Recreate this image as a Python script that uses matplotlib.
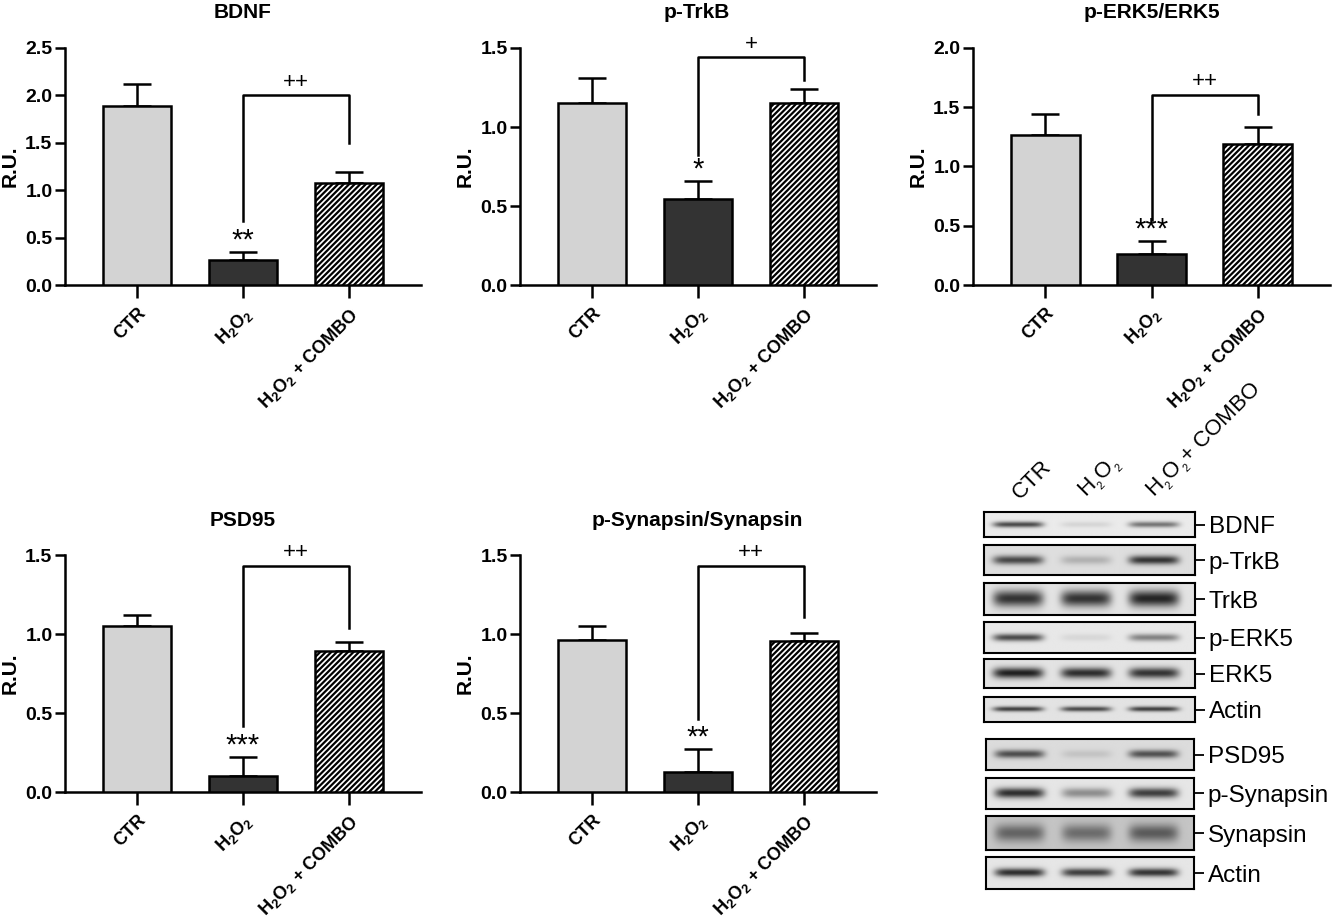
import numpy as np
import matplotlib
matplotlib.use("Agg")
import matplotlib.pyplot as plt

plt.rcParams["font.family"] = ["Liberation Sans", "DejaVu Sans"]
plt.rcParams["mathtext.fontset"] = "custom"
plt.rcParams["mathtext.default"] = "regular"
plt.rcParams["hatch.linewidth"] = 1.6

# ---- Quantification (R.U., mean and upper error) ----
groups = ["CTR", "H$_2$O$_2$", "H$_2$O$_2$ + COMBO"]

titles = ["BDNF", "p-TrkB", "p-ERK5/ERK5", "PSD95", "p-Synapsin/Synapsin"]
means = [
    [1.89, 0.26, 1.08],
    [1.15, 0.545, 1.155],
    [1.265, 0.26, 1.186],
    [1.05, 0.10, 0.89],
    [0.964, 0.127, 0.955],
]
errors = [
    [0.23, 0.09, 0.11],
    [0.16, 0.115, 0.085],
    [0.18, 0.11, 0.148],
    [0.07, 0.12, 0.06],
    [0.085, 0.148, 0.054],
]
y_max = [2.5, 1.5, 2.0, 1.5, 1.5]
stars = ["**", "*", "***", "***", "**"]          # H2O2 vs CTR
pluses = ["++", "+", "++", "++", "++"]           # COMBO vs H2O2
bracket_y = [2.0, 1.44, 1.607, 1.43, 1.43]
bracket_left = [0.675, 0.82, 0.55, 0.42, 0.46]
bracket_right = [1.50, 1.30, 1.447, 1.035, 1.11]

# ---- Western blot band intensities (0 = none, 1 = saturated) ----
blot_names = ["BDNF", "p-TrkB", "TrkB", "p-ERK5", "ERK5", "Actin",
              "PSD95", "p-Synapsin", "Synapsin", "Actin"]
band_ctr = [0.75, 0.75, 0.85, 0.75, 0.95, 0.80, 0.72, 0.88, 0.55, 0.88]
band_h2o2 = [0.10, 0.22, 0.85, 0.08, 0.88, 0.75, 0.12, 0.42, 0.50, 0.80]
band_combo = [0.55, 0.85, 0.92, 0.48, 0.85, 0.80, 0.70, 0.80, 0.60, 0.85]
blot_bg = [0.92, 0.87, 0.89, 0.91, 0.89, 0.89, 0.86, 0.90, 0.77, 0.90]
band_sigma = [0.12, 0.15, 0.25, 0.12, 0.18, 0.10, 0.13, 0.16, 0.26, 0.13]
lane_labels = ["CTR", "H$_{_2}$O$_{_2}$", "H$_{_2}$O$_{_2}$+ COMBO"]

W, H = 1333, 921
fig = plt.figure(figsize=(W / 100, H / 100), dpi=100)


def px_axes(x0, x1, y0, y1):
    return fig.add_axes([x0 / W, 1 - y1 / H, (x1 - x0) / W, (y1 - y0) / H])


# chart boxes in pixels: x0, x1, y_top, y_bottom
chart_boxes = [
    (65, 421, 48, 285),
    (520, 876, 48, 285),
    (973, 1330, 48, 285),
    (65, 421, 555, 792),
    (520, 876, 555, 792),
]
title_x = [243, 697, 1152, 243, 697]
title_y = [13, 13, 13, 520, 520]

x = np.arange(3)
fills = ["#d3d3d3", "#333333", "white"]
hatches = [None, None, "//////"]
LW = 1.8

for k in range(5):
    bx0, bx1, by0, by1 = chart_boxes[k]
    ax = px_axes(bx0, bx1, by0, by1)
    for i in range(3):
        ax.bar(x[i], means[k][i], width=0.65, color=fills[i], edgecolor="black",
               linewidth=LW, hatch=hatches[i], zorder=3)
    ax.errorbar(x, means[k], yerr=[[0, 0, 0], errors[k]], fmt="none",
                ecolor="black", elinewidth=LW, capsize=10, capthick=LW, zorder=2)
    ax.set_xlim(-0.679, 2.679)
    ax.set_ylim(0, y_max[k])
    ax.set_yticks(np.arange(0, y_max[k] + 0.01, 0.5))
    ax.yaxis.set_major_formatter(matplotlib.ticker.FormatStrFormatter("%.1f"))
    ax.set_xticks(x)
    ax.set_xticklabels(groups, rotation=45, ha="right", rotation_mode="anchor",
                       fontweight="bold", fontsize=13)
    for lab in ax.get_yticklabels():
        lab.set_fontweight("bold")
    ax.tick_params(axis="y", length=7, width=LW, labelsize=14, pad=2)
    ax.tick_params(axis="x", length=9, width=LW, pad=5)
    for s in ["top", "right"]:
        ax.spines[s].set_visible(False)
    for s in ["left", "bottom"]:
        ax.spines[s].set_linewidth(LW)
    ax.set_ylabel("R.U.", fontsize=15, fontweight="bold", labelpad=4)

    # significance bracket H2O2 vs COMBO
    ax.plot([1, 1, 2, 2], [bracket_left[k], bracket_y[k], bracket_y[k], bracket_right[k]],
            color="black", linewidth=LW, clip_on=False)
    ax.annotate(pluses[k], xy=(1.5, bracket_y[k]), xytext=(0, 2), textcoords="offset points",
                ha="center", va="bottom", fontsize=16)
    top = means[k][1] + errors[k][1]
    ax.annotate(stars[k], xy=(1, top), xytext=(0, -2), textcoords="offset points",
                ha="center", va="bottom", fontsize=21)

    fig.text(title_x[k] / W, 1 - title_y[k] / H, titles[k],
             ha="center", va="center", fontsize=15, fontweight="bold")

# ---- Western blot panel ----
blot_rows = [(512, 537), (545, 575), (583, 615), (622, 653), (659, 688), (697, 722),
             (739, 770), (778, 809), (816, 850), (857, 889)]
blot_x = [(984, 1195)] * 6 + [(986, 1194)] * 4

xs = np.linspace(-0.5, 2.6, 320)
ys = np.linspace(0, 1, 60)
XX, YY = np.meshgrid(xs, ys)
for r in range(len(blot_names)):
    x0, x1 = blot_x[r]
    y0, y1 = blot_rows[r]
    ax = px_axes(x0, x1, y0, y1)
    img = np.full_like(XX, blot_bg[r])
    for lane, val in enumerate([band_ctr[r], band_h2o2[r], band_combo[r]]):
        win = np.exp(-(np.abs(XX - lane) / 0.37) ** 6)
        prof = np.exp(-((YY - 0.5) / band_sigma[r]) ** 2)
        img -= val * (blot_bg[r] - 0.08) * win * prof
    ax.imshow(np.clip(img, 0, 1), cmap="gray", vmin=0, vmax=1, aspect="auto",
              extent=(-0.5, 2.6, 1, 0), interpolation="bilinear")
    ax.set_xlim(-0.5, 2.6)
    ax.set_ylim(1, 0)
    ax.set_xticks([])
    ax.yaxis.tick_right()
    ax.set_yticks([0.5])
    ax.set_yticklabels([blot_names[r]])
    ax.tick_params(axis="y", length=7, width=1.3, pad=3, labelsize=17.5)
    for s in ax.spines.values():
        s.set_linewidth(1.5)
    if r == 0:
        for lane, lab in enumerate(lane_labels):
            ax.annotate(lab, xy=(lane + 0.08, 1.0), xycoords=("data", "axes fraction"),
                        xytext=(0, 6), textcoords="offset points", rotation=45,
                        rotation_mode="anchor", ha="left", va="bottom", fontsize=16)

fig.savefig("out.png", dpi=100)
